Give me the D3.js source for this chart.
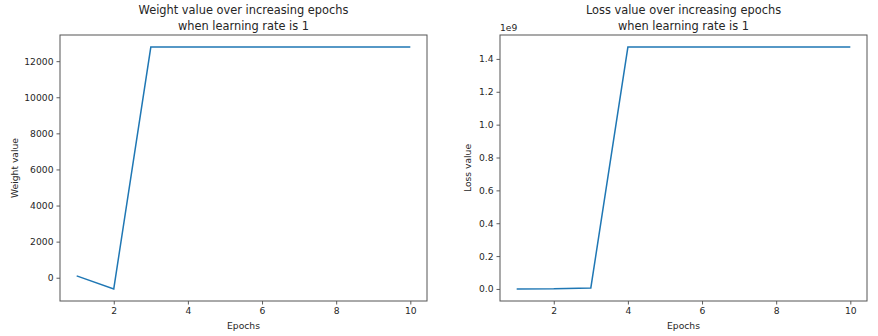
<!DOCTYPE html>
<html>
<head>
<meta charset="utf-8">
<script src="https://cdn.jsdelivr.net/npm/d3@7"></script>
<style>
  html, body { margin: 0; padding: 0; background: #fff; }
  svg text { font-family: "DejaVu Sans", sans-serif; fill: #262626; }
</style>
</head>
<body>
<svg id="chart" width="878" height="336"></svg>
<script>
// ---- data ----
const epochs = [1, 2, 3, 4, 5, 6, 7, 8, 9, 10];
const weightValues = [100, -620, 12780, 12780, 12780, 12780, 12780, 12780, 12780, 12780];
const lossValues = [0.2e6, 0.5e6, 6e6, 1.472e9, 1.472e9, 1.472e9, 1.472e9, 1.472e9, 1.472e9, 1.472e9];
const xTicks = [2, 4, 6, 8, 10];
const weightTicks = [0, 2000, 4000, 6000, 8000, 10000, 12000];
const lossTicks = [0, 0.2e9, 0.4e9, 0.6e9, 0.8e9, 1.0e9, 1.2e9, 1.4e9];
const titles = [
  ["Weight value over increasing epochs", "when learning rate is 1"],
  ["Loss value over increasing epochs", "when learning rate is 1"]
];
const yLabels = ["Weight value", "Loss value"];
const xLabel = "Epochs";

const svg = d3.select("#chart");
const tickFont = "9.2px";
const titleFont = "11.4px";

function padded(ext) {
  const m = (ext[1] - ext[0]) * 0.05;
  return [ext[0] - m, ext[1] + m];
}

function panel(cfg) {
  const { left, right, top, bottom, values, yTicks, yFmt, title, yLabel, yLabelX, offsetText } = cfg;
  const x = d3.scaleLinear().domain(padded(d3.extent(epochs))).range([left, right]);
  const y = d3.scaleLinear().domain(padded(d3.extent(values))).range([bottom, top]);
  const g = svg.append("g");

  const line = d3.line().x((d, i) => x(epochs[i])).y(d => y(d));
  g.append("path").datum(values)
    .attr("d", line)
    .attr("fill", "none")
    .attr("stroke", "#1f77b4")
    .attr("stroke-width", 1.5)
    .attr("stroke-linejoin", "miter");

  const xAxis = g.append("g").attr("transform", `translate(0,${bottom})`)
    .call(d3.axisBottom(x).tickValues(xTicks).tickSize(3.5).tickPadding(3).tickFormat(d3.format("d")));
  const yAxis = g.append("g").attr("transform", `translate(${left},0)`)
    .call(d3.axisLeft(y).tickValues(yTicks).tickSize(3.5).tickPadding(3).tickFormat(yFmt));
  [xAxis, yAxis].forEach(a => {
    a.select(".domain").remove();
    a.selectAll(".tick line").attr("stroke", "#333").attr("stroke-width", 0.8);
    a.selectAll(".tick text").attr("font-size", tickFont).attr("fill", "#262626")
      .style("font-family", "'DejaVu Sans', sans-serif");
  });

  g.append("rect")
    .attr("x", left).attr("y", top)
    .attr("width", right - left).attr("height", bottom - top)
    .attr("fill", "none").attr("stroke", "#555").attr("stroke-width", 1);

  const cx = (left + right) / 2;
  g.append("text").attr("x", cx).attr("y", 14).attr("text-anchor", "middle")
    .attr("font-size", titleFont).text(title[0]);
  g.append("text").attr("x", cx).attr("y", 29.5).attr("text-anchor", "middle")
    .attr("font-size", titleFont).text(title[1]);

  g.append("text").attr("x", cx).attr("y", 329).attr("text-anchor", "middle")
    .attr("font-size", tickFont).text(xLabel);

  const cy = (top + bottom) / 2;
  g.append("text").attr("transform", `translate(${yLabelX},${cy}) rotate(-90)`)
    .attr("text-anchor", "middle").attr("font-size", tickFont).text(yLabel);

  if (offsetText) {
    g.append("text").attr("x", left).attr("y", 31).attr("font-size", tickFont).text(offsetText);
  }
}

panel({
  left: 60, right: 427, top: 35, bottom: 301,
  values: weightValues, yTicks: weightTicks, yFmt: d3.format("d"),
  title: titles[0], yLabel: yLabels[0], yLabelX: 17.5,
});

panel({
  left: 500, right: 867, top: 35, bottom: 301,
  values: lossValues, yTicks: lossTicks, yFmt: d => (d / 1e9).toFixed(1),
  title: titles[1], yLabel: yLabels[1], yLabelX: 471, offsetText: "1e9"
});
</script>
</body>
</html>
